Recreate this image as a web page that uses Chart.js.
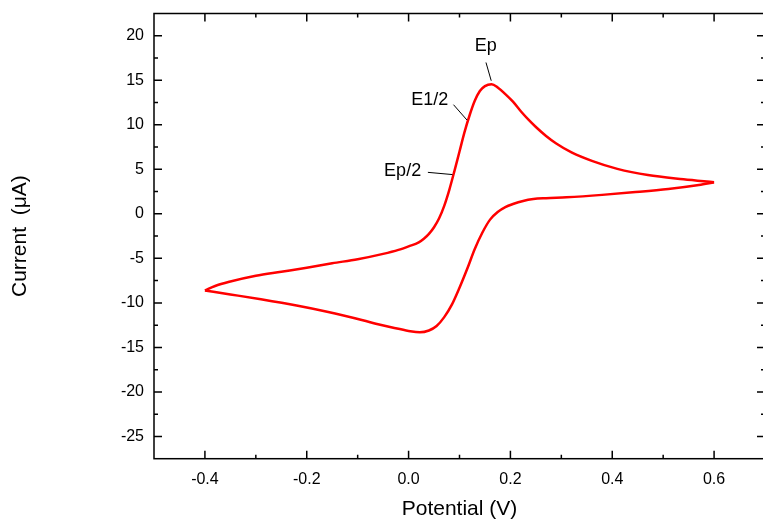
<!DOCTYPE html>
<html>
<head>
<meta charset="utf-8">
<script src="https://cdn.jsdelivr.net/npm/chart.js@4.4.1/dist/chart.umd.min.js"></script>
<style>
html, body { margin: 0; padding: 0; overflow: hidden; background: #fff; }
#wrap { width: 766px; height: 519px; }
</style>
</head>
<body>
<div id="wrap"><canvas id="cv-chart" width="766" height="519"></canvas></div>
<script>
// anodic sweep (upper branch), -0.4 V -> 0.6 V
const forwardPotential = [-0.40, -0.38, -0.35, -0.30, -0.25, -0.20, -0.15, -0.10, -0.05, -0.02,
    0.00, 0.02, 0.03, 0.04, 0.05, 0.06, 0.07, 0.08, 0.09, 0.10, 0.11, 0.12, 0.13, 0.14, 0.15,
    0.163, 0.175, 0.19, 0.205, 0.22, 0.235, 0.25, 0.27, 0.29, 0.32, 0.36, 0.41, 0.47, 0.54, 0.60];
const forwardCurrent = [-8.6, -8.1, -7.6, -6.95, -6.5, -6.05, -5.55, -5.1, -4.5, -4.05,
    -3.65, -3.2, -2.8, -2.25, -1.5, -0.5, 0.9, 2.7, 4.8, 7.0, 9.2, 11.1, 12.7, 13.8, 14.35,
    14.55, 14.2, 13.45, 12.6, 11.55, 10.6, 9.75, 8.75, 7.9, 6.9, 5.95, 5.05, 4.35, 3.88, 3.55];

// cathodic sweep (lower branch), 0.6 V -> -0.4 V
const reversePotential = [0.60, 0.57, 0.51, 0.44, 0.38, 0.31, 0.27, 0.245, 0.225, 0.205,
    0.19, 0.175, 0.16, 0.145, 0.13, 0.115, 0.10, 0.085, 0.07, 0.055, 0.04, 0.022, 0.0,
    -0.03, -0.06, -0.09, -0.16, -0.22, -0.29, -0.35, -0.40];
const reverseCurrent = [3.55, 3.25, 2.8, 2.42, 2.13, 1.86, 1.76, 1.66, 1.45, 1.1,
    0.75, 0.2, -0.65, -2.1, -3.95, -6.2, -8.3, -10.2, -11.6, -12.6, -13.1, -13.3, -13.15,
    -12.8, -12.4, -11.95, -11.0, -10.3, -9.6, -9.05, -8.6];

const xTickValues = [-0.4, -0.2, 0, 0.2, 0.4, 0.6];
const yTickValues = [-25, -20, -15, -10, -5, 0, 5, 10, 15, 20];

// peak annotations, in data units (V, uA)
const peakLabels = ['Ep', 'E1/2', 'Ep/2'];
const labelTextPos = [[0.1515, 18.8], [0.0414, 12.76], [-0.0117, 4.85]];
const labelLineFrom = [[0.152, 17.0], [0.0882, 12.26], [0.0379, 4.66]];
const labelLineTo = [[0.1623, 14.95], [0.1146, 10.54], [0.0862, 4.41]];

const FONT = '"Liberation Sans", Arial, sans-serif';

function toPoints(xs, ys) {
    return xs.map((v, i) => ({ x: v, y: ys[i] }));
}

// frame with inward ticks on all four sides, plus the peak labels
const framePlugin = {
    id: 'frame',
    afterDraw(chart) {
        const { ctx, chartArea: a, scales: { x, y } } = chart;
        ctx.save();
        ctx.strokeStyle = '#000';
        ctx.lineWidth = 1.5;
        ctx.strokeRect(a.left, a.top, a.right - a.left, a.bottom - a.top);

        ctx.beginPath();
        for (let i = -4; i <= 6; i++) {
            const px = x.getPixelForValue(i / 10);
            const len = i % 2 === 0 ? 8 : 4;
            ctx.moveTo(px, a.bottom); ctx.lineTo(px, a.bottom - len);
            ctx.moveTo(px, a.top); ctx.lineTo(px, a.top + len);
        }
        for (let i = -10; i <= 8; i++) {
            const py = y.getPixelForValue(i * 2.5);
            const len = i % 2 === 0 ? 8 : 4;
            ctx.moveTo(a.left, py); ctx.lineTo(a.left + len, py);
            ctx.moveTo(a.right, py); ctx.lineTo(a.right - len, py);
        }
        ctx.stroke();

        ctx.lineWidth = 1;
        ctx.beginPath();
        peakLabels.forEach((t, i) => {
            ctx.moveTo(x.getPixelForValue(labelLineFrom[i][0]), y.getPixelForValue(labelLineFrom[i][1]));
            ctx.lineTo(x.getPixelForValue(labelLineTo[i][0]), y.getPixelForValue(labelLineTo[i][1]));
        });
        ctx.stroke();

        ctx.fillStyle = '#000';
        ctx.font = '18px ' + FONT;
        ctx.textAlign = 'center';
        ctx.textBaseline = 'middle';
        peakLabels.forEach((t, i) => {
            ctx.fillText(t, x.getPixelForValue(labelTextPos[i][0]), y.getPixelForValue(labelTextPos[i][1]));
        });
        ctx.restore();
    }
};

const ctx = document.getElementById('cv-chart').getContext('2d');
const chart = new Chart(ctx, {
    type: 'line',
    data: {
        datasets: [{
            label: 'forward',
            data: toPoints(forwardPotential, forwardCurrent),
            borderColor: '#ff0000',
            borderWidth: 2.5,
            pointRadius: 0,
            fill: false,
            cubicInterpolationMode: 'monotone'
        }, {
            label: 'reverse',
            data: toPoints(reversePotential, reverseCurrent),
            borderColor: '#ff0000',
            borderWidth: 2.5,
            pointRadius: 0,
            fill: false,
            cubicInterpolationMode: 'monotone'
        }]
    },
    options: {
        responsive: false,
        animation: false,
        layout: { padding: { top: 13.5, right: 1, left: 0, bottom: 0 } },
        plugins: {
            legend: { display: false },
            tooltip: { enabled: false }
        },
        scales: {
            x: {
                type: 'linear',
                min: -0.5,
                max: 0.7,
                grid: { display: false, drawTicks: false },
                border: { display: false },
                afterBuildTicks: s => { s.ticks = xTickValues.map(v => ({ value: v })); },
                afterFit: s => { s.height = 60.3; s.paddingLeft = 0; s.paddingRight = 0; },
                ticks: {
                    color: '#000',
                    padding: 11,
                    font: { family: FONT, size: 16 },
                    callback: v => Number(v).toFixed(1)
                },
                title: {
                    display: true,
                    text: 'Potential (V)',
                    color: '#000',
                    font: { family: FONT, size: 21 },
                    padding: { top: 0, bottom: -3 }
                }
            },
            y: {
                type: 'linear',
                min: -27.5,
                max: 22.5,
                grid: { display: false, drawTicks: false },
                border: { display: false },
                afterBuildTicks: s => { s.ticks = yTickValues.map(v => ({ value: v })); },
                afterFit: s => { s.width = 154; s.paddingTop = 0; s.paddingBottom = 0; },
                ticks: {
                    color: '#000',
                    padding: 10,
                    font: { family: FONT, size: 16 },
                    callback: v => String(v)
                },
                title: {
                    display: true,
                    text: 'Current  (\u03bcA)',
                    color: '#000',
                    font: { family: FONT, size: 21 },
                    padding: { top: 7.5, bottom: 0 }
                }
            }
        }
    },
    plugins: [framePlugin]
});
</script>
</body>
</html>
